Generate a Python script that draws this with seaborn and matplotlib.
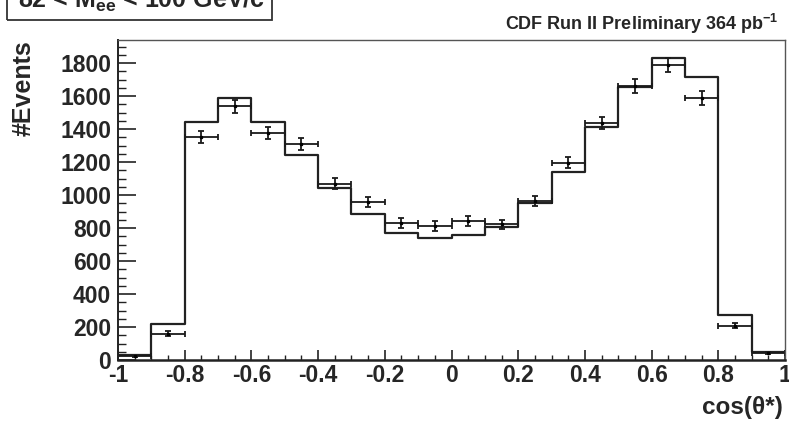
import numpy as np
import pandas as pd
import matplotlib
matplotlib.use("Agg")
import matplotlib.pyplot as plt
from matplotlib.patches import Rectangle
from matplotlib.ticker import MultipleLocator
import seaborn as sns

# cos(theta*) binning: 20 bins of width 0.1 between -1 and 1
bin_edges = [-1.0, -0.9, -0.8, -0.7, -0.6, -0.5, -0.4, -0.3, -0.2, -0.1, 0.0,
             0.1, 0.2, 0.3, 0.4, 0.5, 0.6, 0.7, 0.8, 0.9, 1.0]
bin_centers = [-0.95, -0.85, -0.75, -0.65, -0.55, -0.45, -0.35, -0.25, -0.15, -0.05,
               0.05, 0.15, 0.25, 0.35, 0.45, 0.55, 0.65, 0.75, 0.85, 0.95]

# simulated expectation (histogram)
mc_counts = [32, 220, 1442, 1590, 1442, 1240, 1045, 883, 772, 741,
             757, 808, 951, 1137, 1410, 1657, 1832, 1717, 273, 50]
# observed events and their uncertainties
data_counts = [22, 160, 1351, 1537, 1378, 1307, 1069, 956, 832, 814,
               844, 822, 964, 1196, 1438, 1661, 1788, 1588, 208, 40]
data_errors = [5, 13, 37, 39, 37, 36, 33, 31, 29, 29,
               29, 29, 31, 35, 38, 41, 42, 40, 14, 6]
half_width = [0.05] * 20

x_ticks = [-1, -0.8, -0.6, -0.4, -0.2, 0, 0.2, 0.4, 0.6, 0.8, 1]
x_tick_labels = ["-1", "-0.8", "-0.6", "-0.4", "-0.2", "0", "0.2", "0.4", "0.6", "0.8", "1"]
y_ticks = [0, 200, 400, 600, 800, 1000, 1200, 1400, 1600, 1800]

sns.set_theme(style="white")
plt.rcParams["font.family"] = ["Liberation Sans", "DejaVu Sans"]
plt.rcParams["font.weight"] = "bold"
plt.rcParams["mathtext.fontset"] = "custom"
plt.rcParams["mathtext.rm"] = "Liberation Sans:bold"
plt.rcParams["mathtext.bf"] = "Liberation Sans:bold"
plt.rcParams["mathtext.it"] = "Liberation Sans:bold"
plt.rcParams["mathtext.default"] = "bf"

W, H = 789, 421
fig = plt.figure(figsize=(W / 100, H / 100), dpi=100)
fig.patch.set_facecolor("white")
ax = fig.add_axes([118 / W, 1 - 360 / H, (785 - 118) / W, (360 - 40) / H])

line_col = "#222222"
mc_df = pd.DataFrame({"x": bin_centers, "w": mc_counts})
sns.histplot(data=mc_df, x="x", weights="w", bins=bin_edges, element="step",
             fill=False, color=line_col, linewidth=1.6, ax=ax)

ax.errorbar(bin_centers, data_counts, yerr=data_errors, xerr=half_width,
            fmt="s", markersize=1.4, color="black", ecolor="#1a1a1a",
            elinewidth=1.3, capsize=2.3, capthick=1.3)

ax.set_xlim(-1, 1)
ax.set_ylim(0, 1940)
ax.set_xlabel("")
ax.set_ylabel("")

ax.set_xticks(x_ticks)
ax.set_xticklabels(x_tick_labels)
ax.xaxis.set_minor_locator(MultipleLocator(0.05))
ax.set_yticks(y_ticks)
ax.yaxis.set_minor_locator(MultipleLocator(50))

ax.tick_params(axis="x", which="major", direction="in", length=7.5, width=1.2,
               color=line_col, labelsize=16.5, pad=3, bottom=True, top=False)
ax.tick_params(axis="x", which="minor", direction="in", length=3.8, width=1.0,
               color=line_col, bottom=True, top=False)
ax.tick_params(axis="y", which="major", direction="in", length=13, width=1.2,
               color=line_col, labelsize=16.5, pad=5, left=True, right=False)
ax.tick_params(axis="y", which="minor", direction="in", length=6, width=1.0,
               color=line_col, left=True, right=False)
for lab in ax.get_xticklabels() + ax.get_yticklabels():
    lab.set_fontweight("bold")

for name, sp in ax.spines.items():
    sp.set_visible(True)
    sp.set_color("#555555")
    sp.set_linewidth(1.0)
ax.spines["bottom"].set_color(line_col)
ax.spines["bottom"].set_linewidth(1.8)
ax.spines["left"].set_color(line_col)
ax.spines["left"].set_linewidth(1.4)

# axis titles
fig.text(24 / W, 1 - 40 / H, "#Events", rotation=90, ha="center", va="top",
         fontsize=18, fontweight="bold")
fig.text(783 / W, 1 - 414 / H, "cos(\u03b8*)", ha="right", va="baseline",
         fontsize=17.5, fontweight="bold")

# experiment label
fig.text(778 / W, 1 - 30 / H, "CDF Run II Preliminary 364 pb$^{-1}$",
         ha="right", va="baseline", fontsize=13, fontweight="bold")

# mass window label in a box
fig.patches.append(Rectangle((7 / W, 1 - 20 / H), (272 - 7) / W, 40 / H,
                             transform=fig.transFigure, fill=False,
                             edgecolor="#333333", linewidth=1.3))
fig.text(18 / W, 1 - 8 / H, "82 < M$_{ee}$ < 100 GeV/c$^{2}$",
         ha="left", va="baseline", fontsize=18, fontweight="bold")

fig.savefig("out.png", dpi=100, facecolor="white")
